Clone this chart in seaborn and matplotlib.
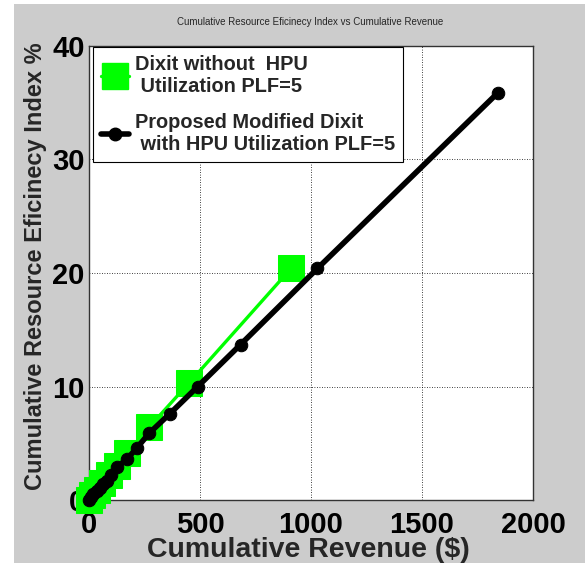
import matplotlib
matplotlib.use("Agg")
import matplotlib.pyplot as plt
import seaborn as sns
import pandas as pd
from matplotlib.lines import Line2D
from matplotlib.patches import Rectangle

# Data
green_x = [0, 15, 35, 60, 90, 125, 170, 270, 450, 910]
green_y = [0, 0.4, 0.9, 1.5, 2.2, 3.0, 4.1, 6.4, 10.3, 20.4]
black_x = [0, 10, 20, 35, 50, 65, 80, 100, 126, 171, 216, 272, 364, 490, 683, 1029, 1843]
black_y = [0, 0.25, 0.5, 0.8, 1.1, 1.4, 1.7, 2.2, 2.9, 3.6, 4.6, 5.9, 7.6, 10.0, 13.7, 20.4, 35.9]
green_label = "Dixit without  HPU\n Utilization PLF=5"
black_label = "Proposed Modified Dixit\n with HPU Utilization PLF=5"
title = "Cumulative Resource Eficinecy Index vs Cumulative Revenue"
xlabel = "Cumulative Revenue ($)"
ylabel = "Cumulative Resource Eficinecy Index %"
xticks = [0, 500, 1000, 1500, 2000]
yticks = [0, 10, 20, 30, 40]

sns.set_style("white")
plt.rcParams['font.family'] = ['Liberation Sans', 'DejaVu Sans']

fig = plt.figure(figsize=(5.85, 5.63), dpi=100)
fig.patch.set_facecolor("white")
fig.patches.append(Rectangle((14 / 585, 0), 1 - 14 / 585, 1 - 4 / 563,
                             transform=fig.transFigure, facecolor="#cccccc",
                             edgecolor="none", zorder=-10))
ax = fig.add_axes([89 / 585, 63 / 563, (533 - 89) / 585, (500 - 46) / 563])
ax.set_facecolor("white")

dfg = pd.DataFrame({"x": green_x, "y": green_y})
dfb = pd.DataFrame({"x": black_x, "y": black_y})

sns.lineplot(data=dfg, x="x", y="y", ax=ax, sort=False, estimator=None,
             color="#00ff00", linewidth=2.4, marker="s", markersize=19,
             markeredgecolor="#00ff00", clip_on=False, zorder=3)
sns.lineplot(data=dfb, x="x", y="y", ax=ax, sort=False, estimator=None,
             color="black", linewidth=4, marker="o", markersize=9,
             markeredgecolor="black", clip_on=False, zorder=4)

ax.set_xlim(0, 2000)
ax.set_ylim(0, 40)
ax.set_xticks(xticks)
ax.set_yticks(yticks)
ax.grid(True, color="black", linestyle=(0, (1, 2)), linewidth=0.6)
for s in ax.spines.values():
    s.set_color("#333333")
    s.set_linewidth(1.0)
ax.tick_params(axis="both", labelsize=21, length=3, direction="in", width=0.8,
               colors="black")
ax.tick_params(axis="x", pad=8)
ax.tick_params(axis="y", pad=3)
for lab in ax.get_xticklabels() + ax.get_yticklabels():
    lab.set_fontweight("bold")
ax.set_xlabel(xlabel, fontsize=20.5, fontweight="bold")
ax.xaxis.set_label_coords(0.495, -0.1256)
ax.xaxis.label.set_va("baseline")
ax.set_ylabel(ylabel, fontsize=17, fontweight="bold")
ax.yaxis.set_label_coords(-0.095, 0.514)
fig.text(0.53, 1 - 22 / 563, title, fontsize=7, ha="center", va="center")

handles = [
    Line2D([0], [0], color="#00ff00", linewidth=2.4, marker="s", markersize=19,
           markeredgecolor="#00ff00"),
    Line2D([0], [0], color="black", linewidth=4, marker="o", markersize=9),
]
leg = ax.legend(handles, [green_label, black_label], loc="upper left",
                bbox_to_anchor=(3 / 444, 1.0), borderaxespad=0.05,
                prop={"weight": "bold", "size": 14.4}, frameon=True,
                fancybox=False, edgecolor="black", framealpha=1,
                handlelength=1.4, labelspacing=0.85, borderpad=0.4,
                handletextpad=0.3)
leg.get_frame().set_linewidth(0.8)

fig.savefig("out.png", dpi=100)
